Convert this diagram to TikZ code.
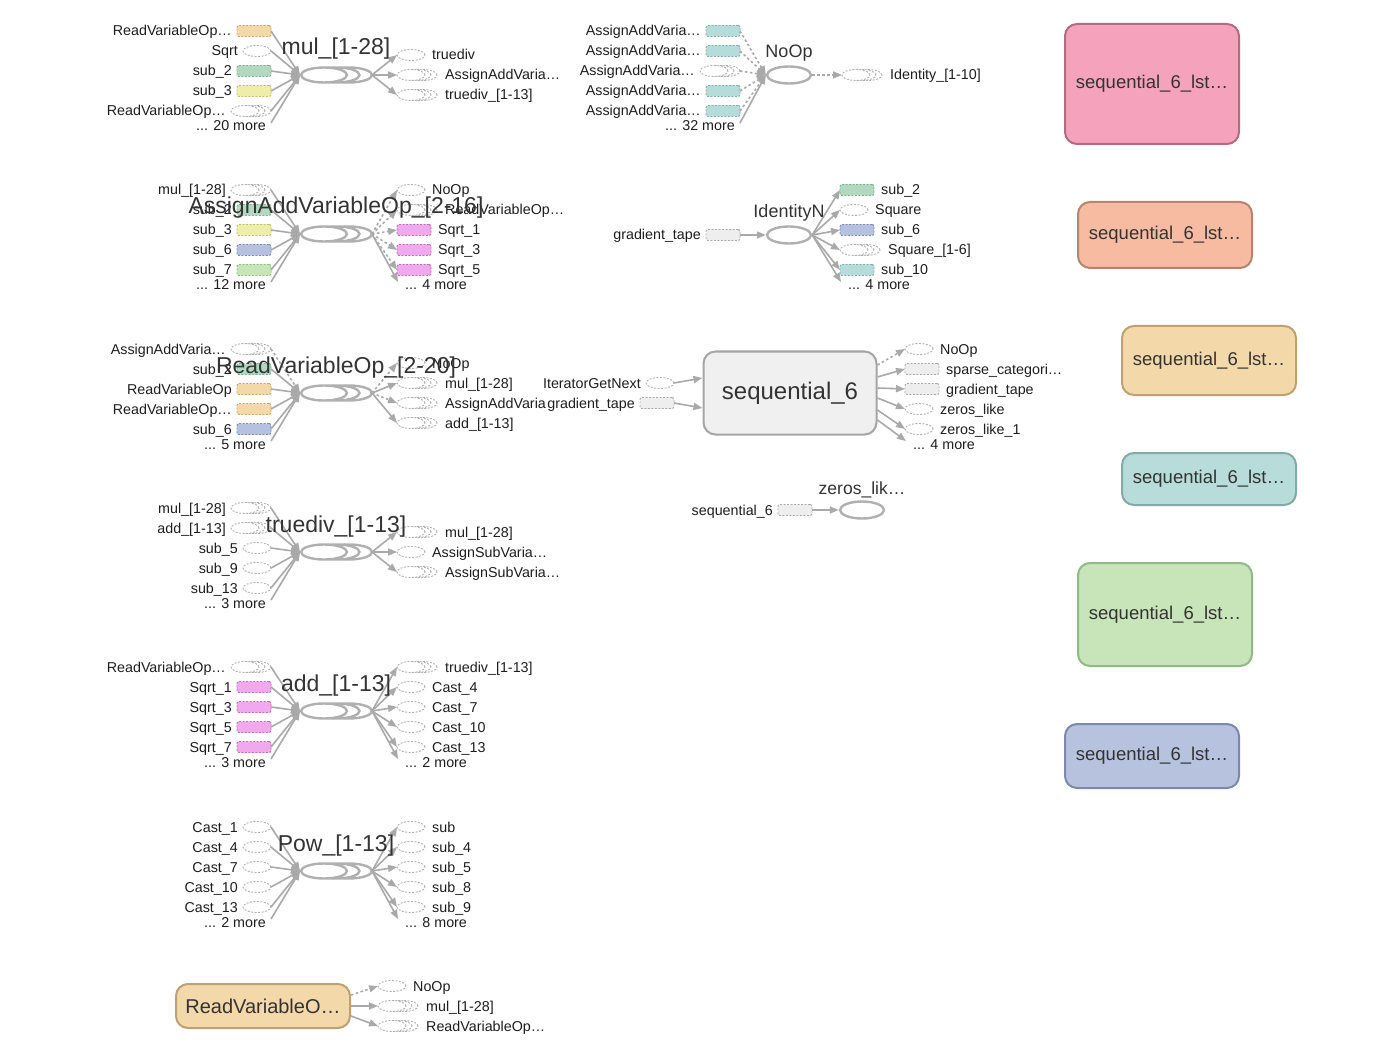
\documentclass[tikz,border=0pt]{standalone}
\usepackage{fontspec}
\setmainfont{Liberation Sans}
\usetikzlibrary{shapes.geometric,arrows.meta}

\definecolor{edgec}{HTML}{A9A9A9}
\definecolor{nodec}{HTML}{B0B0B0}
\definecolor{mainc}{HTML}{B0B0B0}
\definecolor{txtc}{HTML}{1E1E1E}
\definecolor{ttlc}{HTML}{333333}
% small op fills and dashed borders
\definecolor{orf}{HTML}{F3D8A9}\definecolor{orl}{HTML}{C9A66B}
\definecolor{grf}{HTML}{B2D9C0}\definecolor{grl}{HTML}{7FB08F}
\definecolor{yef}{HTML}{EEEEA8}\definecolor{yel}{HTML}{BFBF70}
\definecolor{blf}{HTML}{B5C1DF}\definecolor{bll}{HTML}{7D8BB3}
\definecolor{lgf}{HTML}{C6E5B8}\definecolor{lgl}{HTML}{8FBF80}
\definecolor{tef}{HTML}{B5DCD8}\definecolor{tel}{HTML}{7FB0AB}
\definecolor{pkf}{HTML}{EFA9EC}\definecolor{pkl}{HTML}{BF70BA}
\definecolor{gyf}{HTML}{EEEEEE}\definecolor{gyl}{HTML}{AAAAAA}
% meta node fills and borders
\definecolor{seqf}{HTML}{F0F0F0}\definecolor{seql}{HTML}{A5A5A5}
\definecolor{orbl}{HTML}{BFA171}
\definecolor{m1f}{HTML}{F5A3BD}\definecolor{m1l}{HTML}{B06C84}
\definecolor{m2f}{HTML}{F7BBA2}\definecolor{m2l}{HTML}{B38670}
\definecolor{m3f}{HTML}{F3D8A9}\definecolor{m3l}{HTML}{BFA171}
\definecolor{m4f}{HTML}{B7DCD9}\definecolor{m4l}{HTML}{82ABA7}
\definecolor{m5f}{HTML}{C8E4B9}\definecolor{m5l}{HTML}{90B986}
\definecolor{m6f}{HTML}{B7C2DE}\definecolor{m6l}{HTML}{7C88AC}

\newcommand\fsz[1]{\fontsize{#1}{#1}\selectfont}

\tikzset{
  slot/.style={rectangle, minimum width=34pt, minimum height=11pt, inner sep=0pt, outer sep=0pt},
  opline/.style={draw=nodec, line width=0.9pt, dash pattern=on 2pt off 1.5pt},
  cbox/.style={slot, draw=#1l, fill=#1f, line width=0.9pt, dash pattern=on 2pt off 1.5pt, rounded corners=2pt},
  sell/.style={slot, ellipse, minimum width=28pt, opline, fill=white},
  lbl/.style={font=\fsz{14.3}, text=txtc, inner sep=0pt},
  ttl/.style={text=ttlc, inner sep=0pt, anchor=base},
  mline/.style={draw=mainc, line width=2.4pt},
  mainell/.style={ellipse, mline, fill=white, minimum width=46pt, minimum height=15pt, inner sep=0pt},
  flow/.style={draw=edgec, line width=1.6pt, -{Triangle[length=9pt,width=7pt]}},
  ctrlflow/.style={flow, dash pattern=on 2.5pt off 2.5pt},
  metabox/.style={rectangle, rounded corners=12pt, line width=2pt, inner sep=0pt, text=ttlc},
}

% input-side small ops: right edge given
\newcommand\boxIn[5]{\node[cbox=#4] (#1) at (#2-17,#3) {};
  \node[lbl, anchor=base east] (#1t) at (#2-39,#3+5) {#5};}
\newcommand\ellIn[4]{\node[sell] (#1) at (#2-14,#3) {};
  \node[lbl, anchor=base east] (#1t) at (#2-33,#3+5) {#4};}
\newcommand\serIn[4]{\draw[opline, fill=white] (#2-14,#3) ellipse[x radius=14pt, y radius=5.5pt];
  \draw[opline, fill=white] (#2-20,#3) ellipse[x radius=14pt, y radius=5.5pt];
  \node[sell] (#1f) at (#2-26,#3) {};
  \node[slot, minimum width=40pt] (#1) at (#2-20,#3) {};
  \node[lbl, anchor=base east] (#1t) at (#2-45,#3+5) {#4};}
\newcommand\moreIn[4]{\coordinate (#1) at (#2,#3-3);
  \node[lbl, anchor=base east] (#1t) at (#2-5,#3+5) {#4};}
% output-side small ops: left edge given
\newcommand\boxOut[5]{\node[cbox=#4] (#1) at (#2+17,#3) {};
  \node[lbl, anchor=base west] (#1t) at (#2+41,#3+5) {#5};}
\newcommand\ellOut[4]{\node[sell] (#1) at (#2+14,#3) {};
  \node[lbl, anchor=base west] (#1t) at (#2+35,#3+5) {#4};}
\newcommand\serOut[4]{\draw[opline, fill=white] (#2+26,#3) ellipse[x radius=14pt, y radius=5.5pt];
  \draw[opline, fill=white] (#2+20,#3) ellipse[x radius=14pt, y radius=5.5pt];
  \node[sell] (#1f) at (#2+14,#3) {};
  \node[slot, minimum width=40pt] (#1) at (#2+20,#3) {};
  \node[lbl, anchor=base west] (#1t) at (#2+48,#3+5) {#4};}
\newcommand\moreOut[4]{\coordinate (#1) at (#2+1,#3-3);
  \node[lbl, anchor=base west] (#1t) at (#2+8,#3+5) {#4};}
% stacked series node
\newcommand\mainSer[3]{\draw[mline, fill=white] (#2+25,#3) ellipse[x radius=23pt, y radius=7.5pt];
  \draw[mline, fill=white] (#2+12.5,#3) ellipse[x radius=23pt, y radius=7.5pt];
  \node[mainell] (#1) at (#2,#3) {};
  \coordinate (#1in) at (#2-24,#3);
  \coordinate (#1out) at (#2+48,#3);}

\begin{document}
\begin{tikzpicture}[x=1pt, y=-1pt]
\useasboundingbox[fill=white] (0,0) rectangle (1386,1056);

% ---------- mul_[1-28]
\boxIn{a1}{271}{31}{or}{ReadVariableOp…}
\ellIn{a2}{271}{51}{Sqrt}
\boxIn{a3}{271}{71}{gr}{sub\_2}
\boxIn{a4}{271}{91}{ye}{sub\_3}
\serIn{a5}{271}{111}{ReadVariableOp…}
\moreIn{a6}{271}{126}{... 20 more}
\mainSer{g1}{324}{75}
\ellOut{b1}{397}{55}{truediv}
\serOut{b2}{397}{75}{AssignAddVaria…}
\serOut{b3}{397}{95}{truediv\_[1-13]}
\foreach \n in {a1,a2,a3,a4,a5} \draw[flow] (\n.east) -- (g1in);
\draw[flow] (a6) -- (g1in);
\foreach \n in {b1,b2,b3} \draw[flow] (g1out) -- (\n.west);

% ---------- NoOp
\boxIn{c1}{740}{31}{te}{AssignAddVaria…}
\boxIn{c2}{740}{51}{te}{AssignAddVaria…}
\serIn{c3}{740}{71}{AssignAddVaria…}
\boxIn{c4}{740}{91}{te}{AssignAddVaria…}
\boxIn{c5}{740}{111}{te}{AssignAddVaria…}
\moreIn{c6}{740}{126}{... 32 more}
\node[mainell, minimum width=44pt, minimum height=17pt] (noop) at (789,75) {};
\serOut{d1}{842}{75}{Identity\_[1-10]}
\foreach \n in {c1,c2,c3,c4,c5} \draw[ctrlflow] (\n.east) -- (noop.west);
\draw[flow] (c6) -- (noop.west);
\draw[ctrlflow] (noop.east) -- (d1.west);

% ---------- AssignAddVariableOp_[2-16]
\serIn{e1}{271}{190}{mul\_[1-28]}
\boxIn{e2}{271}{210}{gr}{sub\_2}
\boxIn{e3}{271}{230}{ye}{sub\_3}
\boxIn{e4}{271}{250}{bl}{sub\_6}
\boxIn{e5}{271}{270}{lg}{sub\_7}
\moreIn{e6}{271}{285}{... 12 more}
\mainSer{g3}{324}{234}
\ellOut{f1}{397}{190}{NoOp}
\serOut{f2}{397}{210}{ReadVariableOp…}
\boxOut{f3}{397}{230}{pk}{Sqrt\_1}
\boxOut{f4}{397}{250}{pk}{Sqrt\_3}
\boxOut{f5}{397}{270}{pk}{Sqrt\_5}
\moreOut{f6}{397}{285}{... 4 more}
\foreach \n in {e1,e2,e3,e4,e5} \draw[flow] (\n.east) -- (g3in);
\draw[flow] (e6) -- (g3in);
\foreach \n in {f1,f2,f3,f4,f5} \draw[ctrlflow] (g3out) -- (\n.west);
\draw[flow] (g3out) -- (f6);

% ---------- IdentityN
\boxIn{h1}{740}{235}{gy}{gradient\_tape}
\node[mainell, minimum width=44pt, minimum height=17pt] (idn) at (789,235) {};
\boxOut{i1}{840}{190}{gr}{sub\_2}
\ellOut{i2}{840}{210}{Square}
\boxOut{i3}{840}{230}{bl}{sub\_6}
\serOut{i4}{840}{250}{Square\_[1-6]}
\boxOut{i5}{840}{270}{te}{sub\_10}
\moreOut{i6}{840}{285}{... 4 more}
\draw[flow] (h1.east) -- (idn.west);
\foreach \n in {i1,i2,i3,i4,i5} \draw[flow] (idn.east) -- (\n.west);
\draw[flow] (idn.east) -- (i6);

% ---------- ReadVariableOp_[2-20]
\serIn{j1}{271}{349}{AssignAddVaria…}
\boxIn{j2}{271}{369}{gr}{sub\_2}
\boxIn{j3}{271}{389}{or}{ReadVariableOp}
\boxIn{j4}{271}{409}{or}{ReadVariableOp…}
\boxIn{j5}{271}{429}{bl}{sub\_6}
\moreIn{j6}{271}{444}{... 5 more}
\mainSer{g5}{324}{393}
\ellOut{k1}{397}{363}{NoOp}
\serOut{k2}{397}{383}{mul\_[1-28]}
\serOut{k3}{397}{403}{AssignAddVaria}
\serOut{k4}{397}{423}{add\_[1-13]}
\draw[ctrlflow] (j1.east) -- (g5in);
\foreach \n in {j2,j3,j4,j5} \draw[flow] (\n.east) -- (g5in);
\draw[flow] (j6) -- (g5in);
\draw[ctrlflow] (g5out) -- (k1.west);
\draw[flow] (g5out) -- (k2.west);
\draw[ctrlflow] (g5out) -- (k3.west);
\draw[flow] (g5out) -- (k4.west);

% ---------- sequential_6
\node[metabox, fill=seqf, draw=seql, minimum width=173pt, minimum height=83pt, font=\fsz{24}] (seq) at (790,393) {sequential\_6};
\ellIn{m1}{674}{383}{IteratorGetNext}
\boxIn{m2}{674}{403}{gy}{gradient\_tape}
\ellOut{n1}{905}{349}{NoOp}
\boxOut{n2}{905}{369}{gy}{sparse\_categori…}
\boxOut{n3}{905}{389}{gy}{gradient\_tape}
\ellOut{n4}{905}{409}{zeros\_like}
\ellOut{n5}{905}{429}{zeros\_like\_1}
\moreOut{n6}{905}{444}{... 4 more}
\draw[flow] (m1.east) -- ([yshift=15pt]seq.west);
\draw[flow] (m2.east) -- ([yshift=-15pt]seq.west);
\draw[ctrlflow] ([yshift=28pt]seq.east) -- (n1.west);
\draw[flow] ([yshift=16pt]seq.east) -- (n2.west);
\draw[flow] ([yshift=5pt]seq.east) -- (n3.west);
\draw[flow] ([yshift=-5pt]seq.east) -- (n4.west);
\draw[flow] ([yshift=-17pt]seq.east) -- (n5.west);
\draw[flow] ([yshift=-27pt]seq.east) -- (n6);

% ---------- zeros_lik...
\boxIn{p1}{812}{510}{gy}{sequential\_6}
\node[mainell, minimum width=44pt, minimum height=17pt] (zl) at (862,510) {};
\draw[flow] (p1.east) -- (zl.west);

% ---------- truediv_[1-13]
\serIn{q1}{271}{508}{mul\_[1-28]}
\serIn{q2}{271}{528}{add\_[1-13]}
\ellIn{q3}{271}{548}{sub\_5}
\ellIn{q4}{271}{568}{sub\_9}
\ellIn{q5}{271}{588}{sub\_13}
\moreIn{q6}{271}{603}{... 3 more}
\mainSer{g8}{324}{552}
\serOut{r1}{397}{532}{mul\_[1-28]}
\ellOut{r2}{397}{552}{AssignSubVaria…}
\serOut{r3}{397}{572}{AssignSubVaria…}
\foreach \n in {q1,q2,q3,q4,q5} \draw[flow] (\n.east) -- (g8in);
\draw[flow] (q6) -- (g8in);
\foreach \n in {r1,r2,r3} \draw[flow] (g8out) -- (\n.west);

% ---------- add_[1-13]
\serIn{s1}{271}{667}{ReadVariableOp…}
\boxIn{s2}{271}{687}{pk}{Sqrt\_1}
\boxIn{s3}{271}{707}{pk}{Sqrt\_3}
\boxIn{s4}{271}{727}{pk}{Sqrt\_5}
\boxIn{s5}{271}{747}{pk}{Sqrt\_7}
\moreIn{s6}{271}{762}{... 3 more}
\mainSer{g9}{324}{711}
\serOut{t1}{397}{667}{truediv\_[1-13]}
\ellOut{t2}{397}{687}{Cast\_4}
\ellOut{t3}{397}{707}{Cast\_7}
\ellOut{t4}{397}{727}{Cast\_10}
\ellOut{t5}{397}{747}{Cast\_13}
\moreOut{t6}{397}{762}{... 2 more}
\foreach \n in {s1,s2,s3,s4,s5} \draw[flow] (\n.east) -- (g9in);
\draw[flow] (s6) -- (g9in);
\foreach \n in {t1,t2,t3,t4,t5} \draw[flow] (g9out) -- (\n.west);
\draw[flow] (g9out) -- (t6);

% ---------- Pow_[1-13]
\ellIn{u1}{271}{827}{Cast\_1}
\ellIn{u2}{271}{847}{Cast\_4}
\ellIn{u3}{271}{867}{Cast\_7}
\ellIn{u4}{271}{887}{Cast\_10}
\ellIn{u5}{271}{907}{Cast\_13}
\moreIn{u6}{271}{922}{... 2 more}
\mainSer{g10}{324}{871}
\ellOut{v1}{397}{827}{sub}
\ellOut{v2}{397}{847}{sub\_4}
\ellOut{v3}{397}{867}{sub\_5}
\ellOut{v4}{397}{887}{sub\_8}
\ellOut{v5}{397}{907}{sub\_9}
\moreOut{v6}{397}{922}{... 8 more}
\foreach \n in {u1,u2,u3,u4,u5} \draw[flow] (\n.east) -- (g10in);
\draw[flow] (u6) -- (g10in);
\foreach \n in {v1,v2,v3,v4,v5} \draw[flow] (g10out) -- (\n.west);
\draw[flow] (g10out) -- (v6);

% ---------- ReadVariableO... meta node
\node[metabox, fill=orf, draw=orbl, minimum width=174pt, minimum height=44pt, font=\fsz{20}] (rvo) at (263,1006) {ReadVariableO…};
\ellOut{w1}{378}{986}{NoOp}
\serOut{w2}{378}{1006}{mul\_[1-28]}
\serOut{w3}{378}{1026}{ReadVariableOp…}
\draw[ctrlflow] ([yshift=11pt]rvo.east) -- (w1.west);
\draw[flow] (rvo.east) -- (w2.west);
\draw[flow] ([yshift=-10pt]rvo.east) -- (w3.west);

% ---------- sequential_6_lst... meta nodes
\node[metabox, fill=m1f, draw=m1l, minimum width=174pt, minimum height=120pt, font=\fsz{18.5}] (x1) at (1152,84) {sequential\_6\_lst…};
\node[metabox, fill=m2f, draw=m2l, minimum width=174pt, minimum height=66pt, font=\fsz{18.5}] (x2) at (1165,235) {sequential\_6\_lst…};
\node[metabox, fill=m3f, draw=m3l, minimum width=174pt, minimum height=69pt, font=\fsz{18.5}] (x3) at (1209,360.5) {sequential\_6\_lst…};
\node[metabox, fill=m4f, draw=m4l, minimum width=174pt, minimum height=52pt, font=\fsz{18.5}] (x4) at (1209,479) {sequential\_6\_lst…};
\node[metabox, fill=m5f, draw=m5l, minimum width=174pt, minimum height=103pt, font=\fsz{18.5}] (x5) at (1165,614.5) {sequential\_6\_lst…};
\node[metabox, fill=m6f, draw=m6l, minimum width=174pt, minimum height=64pt, font=\fsz{18.5}] (x6) at (1152,756) {sequential\_6\_lst…};

% ---------- titles on top
\node[ttl, font=\fsz{23}] (g1t) at (336,55) {mul\_[1-28]};
\node[ttl, font=\fsz{18}] (noopt) at (789,58) {NoOp};
\node[ttl, font=\fsz{23}] (g3t) at (336,214) {AssignAddVariableOp\_[2-16]};
\node[ttl, font=\fsz{18}] (idnt) at (789,218) {IdentityN};
\node[ttl, font=\fsz{23}] (g5t) at (336,373) {ReadVariableOp\_[2-20]};
\node[ttl, font=\fsz{17.5}] (zlt) at (862,494) {zeros\_lik…};
\node[ttl, font=\fsz{23}] (g8t) at (336,532) {truediv\_[1-13]};
\node[ttl, font=\fsz{23}] (g9t) at (336,691) {add\_[1-13]};
\node[ttl, font=\fsz{23}] (g10t) at (336,851) {Pow\_[1-13]};
\end{tikzpicture}
\end{document}
